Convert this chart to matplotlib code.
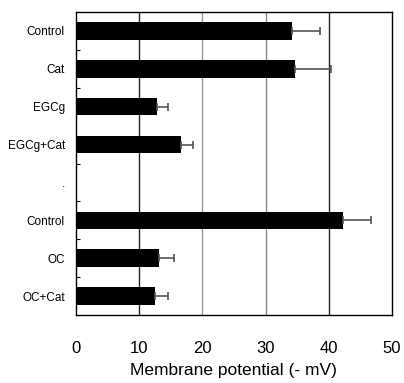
import matplotlib
matplotlib.use("Agg")
import matplotlib.pyplot as plt

labels = ["Control", "Cat", "EGCg", "EGCg+Cat", ".", "Control", "OC", "OC+Cat"]
values = [34.2, 34.7, 12.9, 16.6, 0, 42.2, 13.2, 12.5]
errors = [4.5, 5.6, 1.7, 2.0, 0, 4.5, 2.3, 2.1]
grid_colors = {10: "#222222", 20: "#999999", 30: "#888888", 40: "#222222"}

plt.rcParams["font.family"] = ["Liberation Sans", "DejaVu Sans"]

fig = plt.figure(figsize=(4.04, 3.83), dpi=100)
ax = fig.add_axes([0.188, 0.1775, 0.782, 0.7912])

pos = list(range(len(labels)))
for x, c in grid_colors.items():
    ax.axvline(x, color=c, lw=1.0, zorder=0)

ax.barh(pos, values, height=0.46, color="black", zorder=2)
ax.errorbar([v for v in values if v], [p for p, v in zip(pos, values) if v],
            xerr=[[0] * 7, [e for e, v in zip(errors, values) if v]],
            fmt="none", ecolor="#555555", elinewidth=1.2, capsize=3,
            capthick=1.2, zorder=3)

ax.set_xlim(0, 50)
ax.set_ylim(7.5, -0.5)
ax.set_xticks([0, 10, 20, 30, 40, 50])
ax.tick_params(axis="x", length=0, pad=19, labelsize=12)
ax.set_yticks(pos)
ax.set_yticklabels(labels, fontsize=8.5)
ax.tick_params(axis="y", length=0, pad=8)
ax.set_yticks([0.5, 1.5, 3.5, 4.5, 5.5, 6.5], minor=True)
ax.tick_params(axis="y", which="minor", direction="in", length=3, width=0.8)
ax.set_xlabel("Membrane potential (- mV)", fontsize=12.5, labelpad=5)
for s in ax.spines.values():
    s.set_linewidth(1.0)

fig.savefig("out.png", dpi=100)
